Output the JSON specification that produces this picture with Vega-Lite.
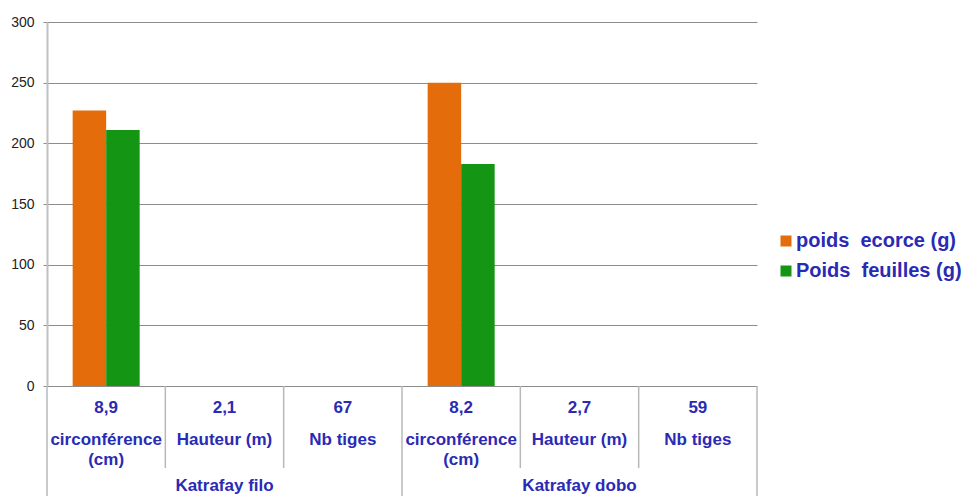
{
  "$schema": "https://vega.github.io/schema/vega-lite/v6.json",
  "padding": {"left": 10, "top": 15, "right": 0, "bottom": 0},
  "bounds": "flush",
  "spacing": 0,
  "config": {"view": {"stroke": null}, "font": "Liberation Sans"},
  "datasets": {
    "barres": [
      {"cat": "Katrafay filo / circonférence (cm)", "serie": "poids\u00a0 ecorce (g)", "poids": 227},
      {"cat": "Katrafay filo / circonférence (cm)", "serie": "Poids\u00a0 feuilles (g)", "poids": 211},
      {"cat": "Katrafay dobo / circonférence (cm)", "serie": "poids\u00a0 ecorce (g)", "poids": 250},
      {"cat": "Katrafay dobo / circonférence (cm)", "serie": "Poids\u00a0 feuilles (g)", "poids": 183}
    ],
    "categories": [
      {"cat": "Katrafay filo / circonférence (cm)", "groupe": "Katrafay filo", "nom": "circonférence\n(cm)", "valeur": "8,9", "ordre": 1},
      {"cat": "Katrafay filo / Hauteur (m)", "groupe": "Katrafay filo", "nom": "Hauteur (m)", "valeur": "2,1", "ordre": 2},
      {"cat": "Katrafay filo / Nb tiges", "groupe": "Katrafay filo", "nom": "Nb tiges", "valeur": "67", "ordre": 3},
      {"cat": "Katrafay dobo / circonférence (cm)", "groupe": "Katrafay dobo", "nom": "circonférence\n(cm)", "valeur": "8,2", "ordre": 1},
      {"cat": "Katrafay dobo / Hauteur (m)", "groupe": "Katrafay dobo", "nom": "Hauteur (m)", "valeur": "2,7", "ordre": 2},
      {"cat": "Katrafay dobo / Nb tiges", "groupe": "Katrafay dobo", "nom": "Nb tiges", "valeur": "59", "ordre": 3}
    ]
  },
  "vconcat": [
    {
      "width": 710,
      "height": 364,
      "data": {"name": "barres"},
      "mark": {"type": "bar"},
      "encoding": {
        "x": {
          "field": "cat", "type": "nominal",
          "scale": {"domain": ["Katrafay filo / circonférence (cm)", "Katrafay filo / Hauteur (m)", "Katrafay filo / Nb tiges", "Katrafay dobo / circonférence (cm)", "Katrafay dobo / Hauteur (m)", "Katrafay dobo / Nb tiges"], "paddingInner": 0, "paddingOuter": 0},
          "axis": {"labels": false, "ticks": false, "title": null, "grid": false, "domainColor": "#8c8c8c", "domainWidth": 1}
        },
        "xOffset": {
          "field": "serie", "type": "nominal",
          "scale": {"domain": ["poids\u00a0 ecorce (g)", "Poids\u00a0 feuilles (g)"], "paddingInner": 0, "paddingOuter": 0.766}
        },
        "y": {
          "field": "poids", "type": "quantitative",
          "scale": {"domain": [0, 300], "nice": false},
          "axis": {
            "title": null, "values": [0, 50, 100, 150, 200, 250, 300],
            "grid": true, "gridColor": "#8c8c8c", "gridWidth": 1,
            "domainColor": "#c0c0c0", "domainWidth": 2,
            "tickColor": "#8c8c8c", "tickSize": 4, "tickWidth": 1,
            "labelFont": "Liberation Sans", "labelFontSize": 14, "labelColor": "#222222", "labelPadding": 9
          }
        },
        "color": {
          "field": "serie", "type": "nominal",
          "scale": {"domain": ["poids\u00a0 ecorce (g)", "Poids\u00a0 feuilles (g)"], "range": ["#e46c0a", "#149614"]},
          "legend": {
            "orient": "none", "legendX": 729, "legendY": 209, "title": null,
            "symbolType": "square", "symbolSize": 121, "symbolStrokeWidth": 0,
            "labelFont": "Liberation Sans", "labelFontSize": 20, "labelFontWeight": "bold", "labelColor": "#2a2ab4",
            "labelOffset": 0, "labelLimit": 400, "rowPadding": 10, "padding": 0
          }
        }
      }
    },
    {
      "width": 710,
      "height": 44,
      "data": {"name": "categories"},
      "layer": [
        {
          "mark": {"type": "rule", "color": "#b8b8b8", "strokeWidth": 1.5},
          "encoding": {
            "x": {"field": "cat", "type": "nominal", "bandPosition": 0,
              "scale": {"domain": ["Katrafay filo / circonférence (cm)", "Katrafay filo / Hauteur (m)", "Katrafay filo / Nb tiges", "Katrafay dobo / circonférence (cm)", "Katrafay dobo / Hauteur (m)", "Katrafay dobo / Nb tiges"], "paddingInner": 0, "paddingOuter": 0},
              "axis": null}
          }
        },
        {
          "transform": [{"filter": "datum.cat === 'Katrafay dobo / Nb tiges'"}],
          "mark": {"type": "rule", "color": "#b8b8b8", "strokeWidth": 1.5},
          "encoding": {
            "x": {"field": "cat", "type": "nominal", "bandPosition": 1, "axis": null}
          }
        },
        {
          "mark": {"type": "text", "font": "Liberation Sans", "fontSize": 17, "fontWeight": "bold", "color": "#2a2ab4", "baseline": "middle"},
          "encoding": {
            "x": {"field": "cat", "type": "nominal", "axis": null},
            "text": {"field": "valeur"}
          }
        }
      ]
    },
    {
      "width": 710,
      "height": 38,
      "data": {"name": "categories"},
      "layer": [
        {
          "mark": {"type": "rule", "color": "#b8b8b8", "strokeWidth": 1.5},
          "encoding": {
            "x": {"field": "cat", "type": "nominal", "bandPosition": 0,
              "scale": {"domain": ["Katrafay filo / circonférence (cm)", "Katrafay filo / Hauteur (m)", "Katrafay filo / Nb tiges", "Katrafay dobo / circonférence (cm)", "Katrafay dobo / Hauteur (m)", "Katrafay dobo / Nb tiges"], "paddingInner": 0, "paddingOuter": 0},
              "axis": null}
          }
        },
        {
          "transform": [{"filter": "datum.cat === 'Katrafay dobo / Nb tiges'"}],
          "mark": {"type": "rule", "color": "#b8b8b8", "strokeWidth": 1.5},
          "encoding": {
            "x": {"field": "cat", "type": "nominal", "bandPosition": 1, "axis": null}
          }
        },
        {
          "mark": {"type": "text", "font": "Liberation Sans", "fontSize": 17, "fontWeight": "bold", "color": "#2a2ab4", "baseline": "top", "dy": -17, "lineBreak": "\n", "lineHeight": 20},
          "encoding": {
            "x": {"field": "cat", "type": "nominal", "axis": null},
            "text": {"field": "nom"}
          }
        }
      ]
    },
    {
      "width": 710,
      "height": 28,
      "data": {"name": "categories"},
      "layer": [
        {
          "transform": [{"filter": "datum.ordre === 1"}],
          "mark": {"type": "rule", "color": "#b8b8b8", "strokeWidth": 1.5},
          "encoding": {
            "x": {"field": "cat", "type": "nominal", "bandPosition": 0,
              "scale": {"domain": ["Katrafay filo / circonférence (cm)", "Katrafay filo / Hauteur (m)", "Katrafay filo / Nb tiges", "Katrafay dobo / circonférence (cm)", "Katrafay dobo / Hauteur (m)", "Katrafay dobo / Nb tiges"], "paddingInner": 0, "paddingOuter": 0},
              "axis": null}
          }
        },
        {
          "transform": [{"filter": "datum.cat === 'Katrafay dobo / Nb tiges'"}],
          "mark": {"type": "rule", "color": "#b8b8b8", "strokeWidth": 1.5},
          "encoding": {
            "x": {"field": "cat", "type": "nominal", "bandPosition": 1, "axis": null}
          }
        },
        {
          "transform": [{"filter": "datum.ordre === 2"}],
          "mark": {"type": "text", "font": "Liberation Sans", "fontSize": 17, "fontWeight": "bold", "color": "#2a2ab4", "baseline": "middle", "dy": 4},
          "encoding": {
            "x": {"field": "cat", "type": "nominal", "axis": null},
            "text": {"field": "groupe"}
          }
        }
      ]
    }
  ]
}
